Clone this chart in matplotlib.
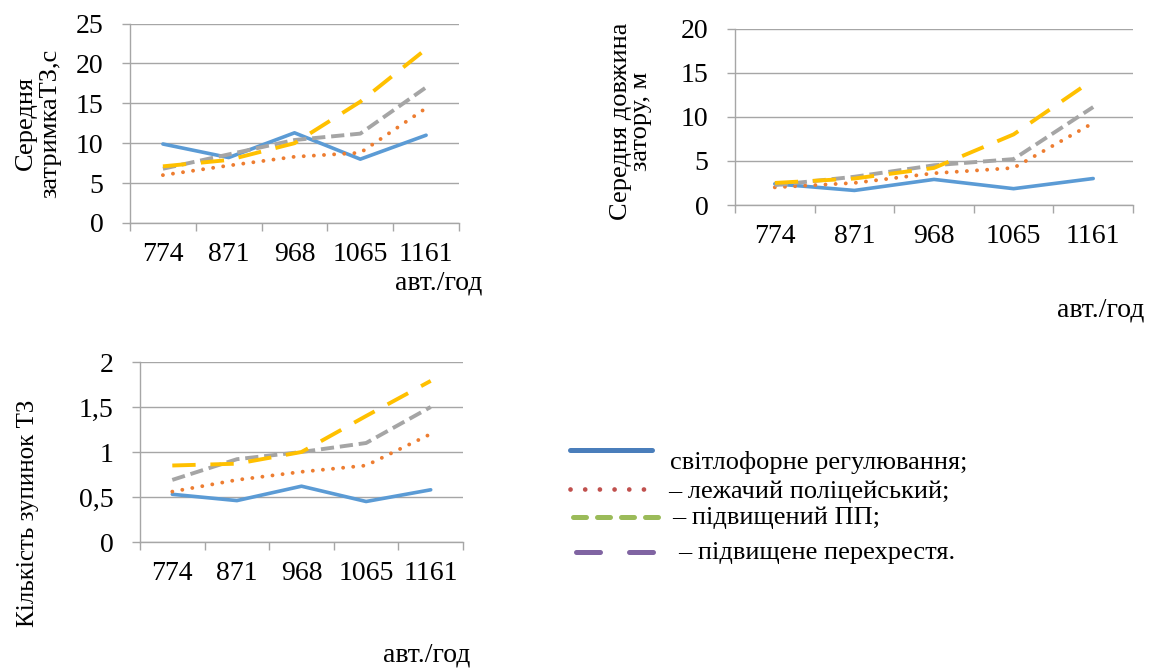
import matplotlib
matplotlib.use("Agg")
import matplotlib.pyplot as plt
from matplotlib.lines import Line2D

plt.rcParams['font.family'] = ['Liberation Serif', 'DejaVu Serif']

W, H = 1156, 668

flows = ['774', '871', '968', '1065', '1161']

# середня затримка ТЗ, с
delay_light = [9.9, 8.2, 11.3, 8.0, 11.0]
delay_bump = [6.0, 7.2, 8.3, 8.8, 14.4]
delay_ped = [6.8, 8.6, 10.4, 11.2, 17.0]
delay_cross = [7.1, 7.9, 10.0, 15.2, 21.8]

# середня довжина затору, м
queue_light = [2.4, 1.65, 2.9, 1.85, 3.0]
queue_bump = [2.0, 2.5, 3.6, 4.2, 9.3]
queue_ped = [2.25, 3.2, 4.5, 5.2, 11.1]
queue_cross = [2.5, 3.0, 4.2, 8.0, 14.2]

# кількість зупинок ТЗ
stops_light = [0.53, 0.46, 0.62, 0.45, 0.58]
stops_bump = [0.56, 0.69, 0.78, 0.85, 1.2]
stops_ped = [0.69, 0.92, 1.0, 1.1, 1.5]
stops_cross = [0.85, 0.87, 1.0, 1.4, 1.79]

legend_labels = ['світлофорне регулювання;', '– лежачий поліцейський;',
                 '– підвищений ПП;', '– підвищене перехрестя.']
legend_colors = ['#4A7EBB', '#C0504D', '#9BBB59', '#8064A2']

grid_c = '#A6A6A6'


def box(l, t, r, b):
    return [l / W, 1 - b / H, (r - l) / W, (b - t) / H]


def fx(x):
    return x / W


def fy(y):
    return 1 - y / H


def draw_chart(ax, light, bump, ped, cross, ymax, step, ylabels):
    x = range(len(flows))
    ax.plot(x, light, color='#5B9BD5', lw=2.6, solid_capstyle='round', zorder=3)
    ax.plot(x, bump, color='#ED7D31', lw=2.8, linestyle=(0, (0.01, 2.6)),
            dash_capstyle='round', zorder=3)
    ax.plot(x, ped, color='#A5A5A5', lw=2.8, linestyle=(0, (3.4, 1.5)), zorder=3)
    ax.plot(x, cross, color='#FFC000', lw=2.8, linestyle=(0, (6.0, 3.8)), zorder=3)

    ax.set_xlim(-0.5, len(flows) - 0.5)
    ax.set_ylim(0, ymax)
    yt = [i * step for i in range(len(ylabels))]
    ax.set_yticks(yt)
    ax.set_yticklabels(ylabels)
    ax.set_xticks([i - 0.5 for i in range(len(flows) + 1)])
    ax.set_xticklabels([])
    ax.set_xticks(list(x), minor=True)
    ax.set_xticklabels(flows, minor=True)
    ax.tick_params(axis='x', which='major', direction='out', length=6, width=1,
                   color=grid_c)
    ax.tick_params(axis='x', which='minor', length=0, pad=14, labelsize=20)
    ax.tick_params(axis='y', direction='out', length=6, width=1, color=grid_c,
                   pad=13, labelsize=20)
    ax.grid(axis='y', color=grid_c, lw=1)
    for s in ['top', 'right']:
        ax.spines[s].set_visible(False)
    for s in ['left', 'bottom']:
        ax.spines[s].set_color(grid_c)
        ax.spines[s].set_linewidth(1)
    ax.set_axisbelow(True)


fig = plt.figure(figsize=(W / 100, H / 100), dpi=100)

ax1 = fig.add_axes(box(130, 23.5, 459, 223))
draw_chart(ax1, delay_light, delay_bump, delay_ped, delay_cross, 25, 5,
           ['0', '5', '10', '15', '20', '25'])
fig.text(fx(38), fy(123), 'Середня\nзатримкаТЗ,с', rotation=90, ha='center',
         va='center', fontsize=19, linespacing=1.1, multialignment='center')
fig.text(fx(395), fy(283), 'авт./год', ha='left', va='center', fontsize=20)

ax2 = fig.add_axes(box(735, 28.5, 1133, 205))
draw_chart(ax2, queue_light, queue_bump, queue_ped, queue_cross, 20, 5,
           ['0', '5', '10', '15', '20'])
fig.text(fx(631), fy(121), 'Середня довжина\nзатору, м', rotation=90,
         ha='center', va='center', fontsize=19, linespacing=0.85,
         multialignment='center')
fig.text(fx(1057), fy(310), 'авт./год', ha='left', va='center', fontsize=20)

ax3 = fig.add_axes(box(140, 362, 463, 542))
draw_chart(ax3, stops_light, stops_bump, stops_ped, stops_cross, 2, 0.5,
           ['0', '0,5', '1', '1,5', '2'])
fig.text(fx(28), fy(513), 'Кількість зупинок ТЗ', rotation=90, ha='center',
         va='center', fontsize=18)
fig.text(fx(383), fy(655), 'авт./год', ha='left', va='center', fontsize=20)

# легенда
fig.add_artist(Line2D([fx(570), fx(652)], [fy(450), fy(450)], color=legend_colors[0],
                      lw=3.6, solid_capstyle='round', transform=fig.transFigure))
fig.add_artist(Line2D([fx(570), fx(654)], [fy(489), fy(489)], color=legend_colors[1],
                      lw=3.4, linestyle=(0, (0.01, 3.1)), dash_capstyle='round',
                      transform=fig.transFigure))
fig.add_artist(Line2D([fx(572.5), fx(657.5)], [fy(517), fy(517)], color=legend_colors[2],
                      lw=3.6, linestyle=(0, (2.6, 2.2)), dash_capstyle='round',
                      transform=fig.transFigure))
fig.add_artist(Line2D([fx(575.5), fx(653.5)], [fy(552), fy(552)], color=legend_colors[3],
                      lw=3.6, linestyle=(0, (4.8, 5.8)), dash_capstyle='round',
                      transform=fig.transFigure))
text_x = [670, 668, 672, 678]
text_y = [463, 492, 518, 553]
for lab, tx, ty in zip(legend_labels, text_x, text_y):
    fig.text(fx(tx), fy(ty), lab, ha='left', va='center', fontsize=19)

fig.savefig('out.png', dpi=100)
